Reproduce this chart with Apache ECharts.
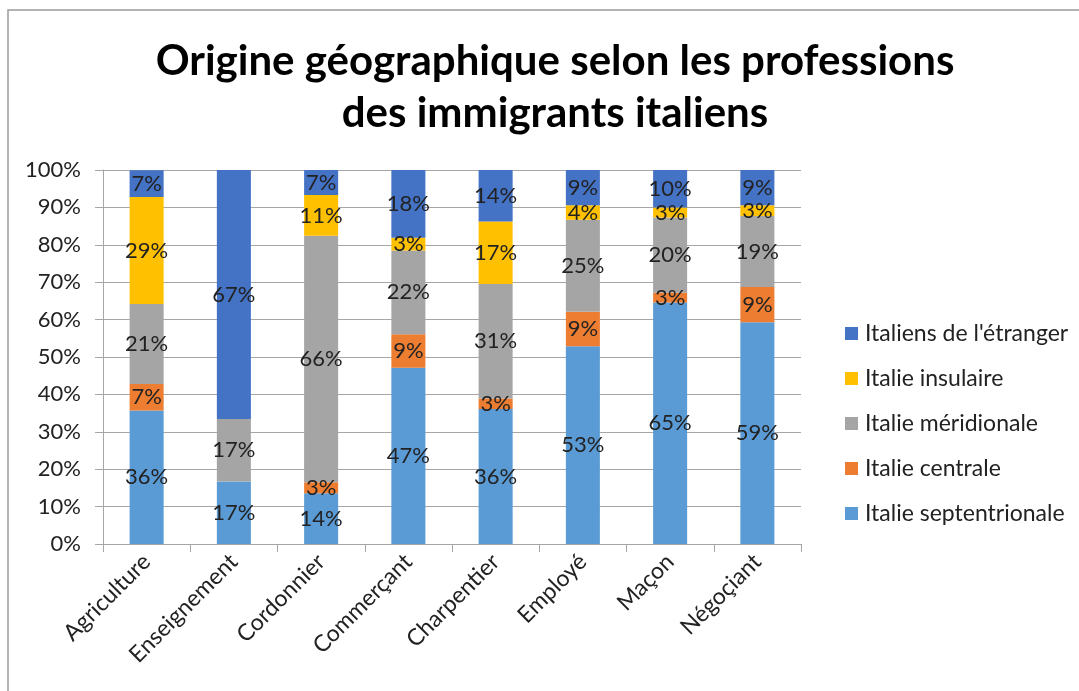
<!DOCTYPE html>
<html lang="fr">
<head>
<meta charset="utf-8">
<title>Origine géographique selon les professions des immigrants italiens</title>
<script src="https://cdn.jsdelivr.net/npm/echarts@6/dist/echarts.min.js"></script>
<style>
  html, body { margin: 0; padding: 0; background: #ffffff; }
  #chart { width: 1079px; height: 691px; }
</style>
</head>
<body>
<div id="chart"></div>
<script>
// Professions on the category axis
const professions = ['Agriculture', 'Enseignement', 'Cordonnier', 'Commerçant',
                     'Charpentier', 'Employé', 'Maçon', 'Négoçiant'];

// Share (%) of each region of origin per profession
const septentrionale = [35.7, 16.7, 13.6, 47.1, 36.1, 52.9, 64.6, 59.3];
const centrale       = [7.1,  0,    2.9,  9.0,  2.8,  9.2,  2.6,  9.4];
const meridionale    = [21.4, 16.7, 65.9, 22.4, 30.6, 24.6, 20.1, 19.0];
const insulaire      = [28.6, 0,    10.9, 3.4,  16.7, 3.9,  2.7,  2.9];
const etranger       = [7.1,  66.6, 6.7,  18.1, 13.9, 9.4,  10.0, 9.4];

// Y axis tick values (percent)
const yTicks = [0, 10, 20, 30, 40, 50, 60, 70, 80, 90, 100];

const FONT = 'Lato, "Open Sans", sans-serif';

const seriesDefs = [
  { name: 'Italie septentrionale', data: septentrionale, color: '#5B9BD5' },
  { name: 'Italie centrale',       data: centrale,       color: '#ED7D31' },
  { name: 'Italie méridionale',    data: meridionale,    color: '#A5A5A5' },
  { name: 'Italie insulaire',      data: insulaire,      color: '#FFC000' },
  { name: "Italiens de l'étranger", data: etranger,      color: '#4472C4' }
];

const chart = echarts.init(document.getElementById('chart'), null, { renderer: 'canvas' });

chart.setOption({
  backgroundColor: '#ffffff',
  animation: false,
  title: {
    text: 'Origine géographique selon les professions\ndes immigrants italiens',
    left: 550,
    textAlign: 'center',
    top: 30,
    textStyle: {
      fontFamily: FONT,
      fontWeight: 'bold',
      fontSize: 42,
      lineHeight: 52,
      color: '#000000'
    }
  },
  legend: {
    orient: 'vertical',
    left: 840,
    top: 317,
    itemWidth: 13,
    itemHeight: 13,
    itemGap: 22,
    icon: 'rect',
    data: ["Italiens de l'étranger", 'Italie insulaire', 'Italie méridionale',
           'Italie centrale', 'Italie septentrionale'],
    textStyle: { fontFamily: FONT, fontSize: 23, color: '#222222', padding: [0, 0, 0, 2] }
  },
  grid: { left: 103, right: 278, top: 170, bottom: 147, containLabel: false },
  xAxis: {
    type: 'category',
    data: professions,
    axisLine: { show: true, lineStyle: { color: '#a6a6a6', width: 1 } },
    axisTick: { show: true, alignWithLabel: false, length: 8, lineStyle: { color: '#a6a6a6' } },
    axisLabel: {
      rotate: 45,
      interval: 0,
      margin: 14,
      fontFamily: FONT,
      fontSize: 23,
      color: '#222222'
    }
  },
  yAxis: {
    type: 'value',
    min: yTicks[0],
    max: yTicks[yTicks.length - 1],
    interval: yTicks[1] - yTicks[0],
    axisLine: { show: true, lineStyle: { color: '#a6a6a6', width: 1 } },
    axisTick: { show: true, length: 8, lineStyle: { color: '#a6a6a6' } },
    splitLine: { show: true, lineStyle: { color: '#a6a6a6', width: 1 } },
    axisLabel: {
      formatter: '{value}%',
      margin: 22,
      fontFamily: FONT,
      fontSize: 22,
      color: '#222222'
    }
  },
  graphic: [{
    type: 'polyline',
    shape: { points: [[8, 691], [8, 10], [1079, 10]] },
    style: { stroke: '#9a9a9a', lineWidth: 1.5, fill: null },
    silent: true
  }],
  series: seriesDefs.map(s => ({
    name: s.name,
    type: 'bar',
    stack: 'total',
    barWidth: '39%',
    data: s.data,
    itemStyle: { color: s.color },
    label: {
      show: true,
      position: 'inside',
      fontFamily: FONT,
      fontSize: 22,
      color: '#222222',
      formatter: p => (p.value > 0 ? Math.round(p.value) + '%' : '')
    }
  }))
});
</script>
</body>
</html>
